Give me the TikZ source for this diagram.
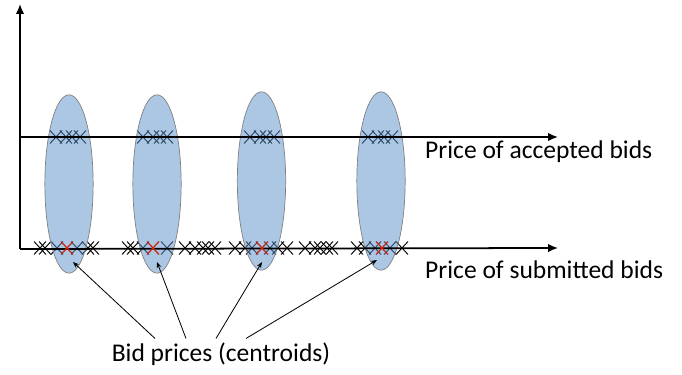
\documentclass[tikz,border=0pt]{standalone}
\usepackage{fontspec}
\setmainfont{Carlito}
\usetikzlibrary{arrows.meta,shapes.geometric}
\definecolor{clfill}{RGB}{89,143,201}
\definecolor{clred}{RGB}{200,40,20}

\begin{document}
\begin{tikzpicture}[
  x=0.03cm, y=-0.03cm,
  font=\fontsize{21.8}{24}\selectfont,
  axis/.style={line width=1.5pt, -{Latex[length=3mm,width=2.6mm]}},
  cluster/.style={ellipse, draw=gray, line width=0.6pt, fill=clfill,
                  fill opacity=0.5, minimum width=1.45cm, minimum height=5.35cm,
                  inner sep=0pt},
  bid/.style={line width=0.8pt, black},
  centroid/.style={line width=1.1pt, clred},
  lbl/.style={anchor=west, inner sep=0pt},
  arr/.style={-{Stealth[length=1.8mm,width=1.4mm]}, line width=0.7pt}
]
\useasboundingbox (0,0) rectangle (682,375);

% ---------- submitted / accepted bids (crosses) ----------
\foreach \x in {40,45,57,77,88,93, 128,133,143,167, 185,195,203,208,215,
                235,245,252,270,278,287, 305,315,320,327,332, 357,365,375,390,402}
  \draw[bid] (\x-6,241.5) -- (\x+6,254.5) (\x-6,254.5) -- (\x+6,241.5);
\foreach \x in {56,66,72,80, 143,153,160,167, 250,260,266,274, 368,378,384,392}
  \draw[bid] (\x-6,130.5) -- (\x+6,143.5) (\x-6,143.5) -- (\x+6,130.5);

% ---------- clusters ----------
\node[cluster] (cl1) at (69,184) {};
\node[cluster] (cl2) at (157,184) {};
\node[cluster] (cl3) at (261.5,181) {};
\node[cluster] (cl4) at (381,181) {};

% ---------- axes ----------
\coordinate (o) at (20,249);
\coordinate (ytip) at (20,4);
\coordinate (acc) at (20,137);
\coordinate (acctip) at (558,137);
\coordinate (subtip) at (558,248);
\draw[axis] (o) -- (ytip);
\draw[axis] (acc) -- (acctip);
\draw[axis] (o) -- (subtip);

\node[lbl] (acclbl) at (425,152) {Price of accepted bids};
\node[lbl] (sublbl) at (425,270) {Price of submitted bids};

% centroids
\foreach \x in {67,153,262,382}
  \draw[centroid] (\x-6,241.5) -- (\x+6,254.5) (\x-6,254.5) -- (\x+6,241.5);

% ---------- bid price label + pointers ----------
\node (bidlbl) at (221,354) {Bid prices (centroids)};
\coordinate (h1) at (73,262);
\coordinate (h2) at (157,262);
\coordinate (h3) at (262,262);
\coordinate (h4) at (377,260);
\draw[arr] (bidlbl.north -| 155,0) -- (h1);
\draw[arr] (bidlbl.north -| 186,0) -- (h2);
\draw[arr] (bidlbl.north -| 216,0) -- (h3);
\draw[arr] (bidlbl.north -| 246,0) -- (h4);

\end{tikzpicture}
\end{document}
